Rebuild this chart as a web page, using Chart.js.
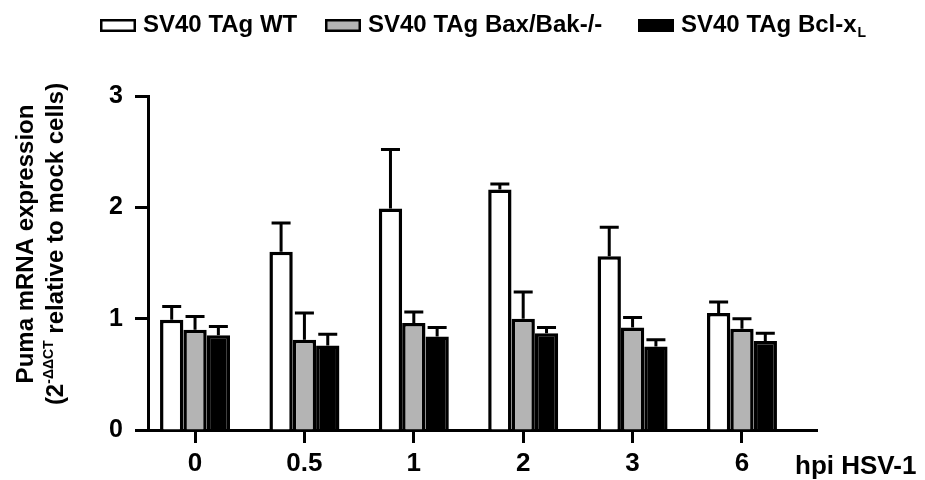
<!DOCTYPE html>
<html><head><meta charset="utf-8">
<script src="https://cdn.jsdelivr.net/npm/chart.js@4.4.1/dist/chart.umd.min.js"></script>
<style>html,body{margin:0;padding:0;background:#fff}canvas{display:block}</style>
</head><body>
<canvas id="c" width="925" height="480"></canvas>
<script>
// ---- data ----
const categories = ['0', '0.5', '1', '2', '3', '6'];
const seriesNames = ['SV40 TAg WT', 'SV40 TAg Bax/Bak-/-', 'SV40 TAg Bcl-x'];
const seriesSubscripts = ['', '', 'L'];
const wtValues = [0.99, 1.60, 1.99, 2.16, 1.56, 1.05];
const wtErrors = [0.12, 0.26, 0.53, 0.05, 0.26, 0.10];
const baxBakValues = [0.90, 0.81, 0.96, 1.00, 0.92, 0.91];
const baxBakErrors = [0.12, 0.24, 0.10, 0.24, 0.09, 0.09];
const bclxlValues = [0.85, 0.76, 0.84, 0.87, 0.75, 0.80];
const bclxlErrors = [0.08, 0.10, 0.08, 0.05, 0.06, 0.07];
const yTicks = [0, 1, 2, 3];
const xAxisTitle = 'hpi HSV-1';
const yTitleLine1 = 'Puma mRNA expression';
const yTitleLine2Parts = ['(2', '-ΔΔCT', ' relative to mock cells)'];

// ---- styles ----
const FONT = '"Liberation Sans", Arial, sans-serif';
const fills = ['#ffffff', '#b4b4b4', '#000000'];
const legendStarts = [100, 325, 638];

function toPoints(vals) { return vals.map((v, i) => ({ x: i, y: v })); }

const datasets = [
  { label: seriesNames[0], data: toPoints(wtValues), errors: wtErrors },
  { label: seriesNames[1], data: toPoints(baxBakValues), errors: baxBakErrors },
  { label: seriesNames[2], data: toPoints(bclxlValues), errors: bclxlErrors }
].map((d, k) => Object.assign(d, {
  backgroundColor: fills[k], borderColor: '#000', borderWidth: 3.5,
  borderSkipped: 'start', categoryPercentage: 0.64, barPercentage: 1
}));

const errorBars = {
  id: 'errorBars',
  afterDatasetsDraw(chart) {
    const ctx = chart.ctx, ys = chart.scales.y;
    ctx.save();
    ctx.strokeStyle = '#000';
    ctx.lineWidth = 3;
    chart.data.datasets.forEach((ds, di) => {
      const meta = chart.getDatasetMeta(di);
      meta.data.forEach((bar, i) => {
        const v = ds.data[i].y, e = ds.errors[i];
        const y0 = ys.getPixelForValue(v), y1 = ys.getPixelForValue(v + e);
        ctx.beginPath();
        ctx.moveTo(bar.x, y0); ctx.lineTo(bar.x, y1);
        ctx.moveTo(bar.x - 9.5, y1); ctx.lineTo(bar.x + 9.5, y1);
        ctx.stroke();
      });
    });
    ctx.restore();
  }
};

const decorations = {
  id: 'decorations',
  afterDraw(chart) {
    const ctx = chart.ctx;
    ctx.save();
    // legend
    ctx.textBaseline = 'alphabetic';
    ctx.textAlign = 'left';
    chart.data.datasets.forEach((ds, k) => {
      const x = legendStarts[k];
      ctx.fillStyle = ds.backgroundColor;
      ctx.fillRect(x, 19, 36, 13);
      ctx.lineWidth = 2.5;
      ctx.strokeStyle = '#000';
      ctx.strokeRect(x + 1.25, 20.25, 33.5, 10.5);
      ctx.fillStyle = '#000';
      ctx.font = 'bold 24px ' + FONT;
      const tx = x + 43;
      ctx.fillText(seriesNames[k], tx, 32);
      const w = ctx.measureText(seriesNames[k]).width;
      if (seriesSubscripts[k]) {
        ctx.font = 'bold 14px ' + FONT;
        ctx.fillText(seriesSubscripts[k], tx + w + 1, 37);
      }
    });
    // x-axis trailing title
    ctx.font = 'bold 26px ' + FONT;
    ctx.fillStyle = '#000';
    ctx.fillText(xAxisTitle, 795, 474);
    // y-axis title (rotated)
    const cy = 244;
    ctx.save();
    ctx.translate(33, cy);
    ctx.rotate(-Math.PI / 2);
    ctx.font = 'bold 24px ' + FONT;
    ctx.textAlign = 'center';
    ctx.fillText(yTitleLine1, 0, 0);
    ctx.restore();
    ctx.save();
    ctx.translate(63, cy);
    ctx.rotate(-Math.PI / 2);
    ctx.textAlign = 'left';
    const big = 'bold 24px ' + FONT, small = 'bold 14px ' + FONT;
    ctx.font = big; const w0 = ctx.measureText(yTitleLine2Parts[0]).width;
    const w2 = ctx.measureText(yTitleLine2Parts[2]).width;
    ctx.font = small; const w1 = ctx.measureText(yTitleLine2Parts[1]).width;
    let sx = -(w0 + w1 + w2) / 2;
    ctx.font = big; ctx.fillText(yTitleLine2Parts[0], sx, 0); sx += w0;
    ctx.font = small; ctx.fillText(yTitleLine2Parts[1], sx, -10); sx += w1;
    ctx.font = big; ctx.fillText(yTitleLine2Parts[2], sx, 0);
    ctx.restore();
    ctx.restore();
  }
};

new Chart(document.getElementById('c'), {
  type: 'bar',
  data: { datasets },
  options: {
    responsive: false,
    animation: false,
    devicePixelRatio: 1,
    layout: { padding: { top: 96, right: 108, left: 0, bottom: 0 } },
    plugins: { legend: { display: false }, tooltip: { enabled: false } },
    scales: {
      x: {
        type: 'linear', min: -0.43, max: 5.686, offset: false,
        afterBuildTicks: s => { s.ticks = categories.map((c, i) => ({ value: i })); },
        afterFit: s => { s.height = 50; },
        grid: { display: true, offset: false, drawOnChartArea: false, drawTicks: true, tickLength: 13, tickWidth: 3, tickColor: '#000' },
        border: { display: true, color: '#000', width: 3 },
        ticks: {
          callback: v => categories[v], autoSkip: false, maxRotation: 0, padding: 5,
          color: '#000', font: { family: FONT, size: 26, weight: 'bold' }
        }
      },
      y: {
        min: 0, max: 3,
        afterBuildTicks: s => { s.ticks = yTicks.map(v => ({ value: v })); },
        afterFit: s => { s.width = 148; },
        grid: { display: true, drawOnChartArea: false, drawTicks: true, tickLength: 13, tickWidth: 3, tickColor: '#000' },
        border: { display: true, color: '#000', width: 3 },
        ticks: { padding: 12, color: '#000', font: { family: FONT, size: 25, weight: 'bold' } }
      }
    }
  },
  plugins: [errorBars, decorations]
});
</script>
</body></html>
